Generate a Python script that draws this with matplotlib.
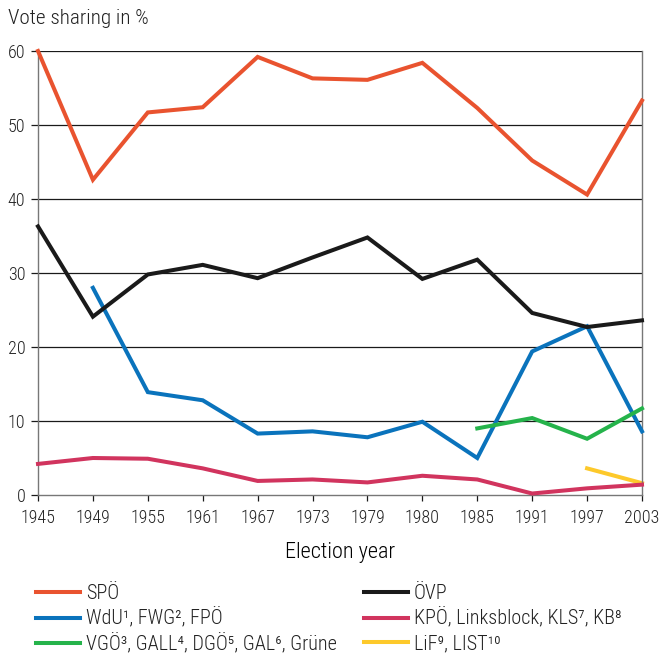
import matplotlib
matplotlib.use("Agg")
import matplotlib.pyplot as plt
import numpy as np

plt.rcParams['font.family'] = ['Roboto Condensed', 'DejaVu Sans']
plt.rcParams['font.stretch'] = 'condensed'
plt.rcParams['font.weight'] = 'light'
plt.rcParams['axes.labelweight'] = 'light'
plt.rcParams['text.color'] = '#222222'
plt.rcParams['xtick.labelcolor'] = '#222222'
plt.rcParams['ytick.labelcolor'] = '#222222'

years = ["1945", "1949", "1955", "1961", "1967", "1973", "1979", "1980", "1985", "1991", "1997", "2003"]
spo = [60.0, 42.6, 51.7, 52.4, 59.2, 56.3, 56.1, 58.4, 52.3, 45.2, 40.6, 53.3]
ovp = [36.3, 24.1, 29.8, 31.1, 29.3, 32.1, 34.8, 29.2, 31.8, 24.6, 22.7, 23.6]
fpo = [None, 28.0, 13.9, 12.8, 8.3, 8.6, 7.8, 9.9, 5.0, 19.4, 22.8, 8.6]
kpo = [4.2, 5.0, 4.9, 3.6, 1.9, 2.1, 1.7, 2.6, 2.1, 0.2, 0.9, 1.4]
gruene = [None, None, None, None, None, None, None, None, 9.0, 10.4, 7.6, 11.7]
lif = [None, None, None, None, None, None, None, None, None, None, 3.6, 1.6]
yticks = [0, 10, 20, 30, 40, 50, 60]

labels = ["SPÖ", "WdU¹, FWG², FPÖ", "VGÖ³, GALL⁴, DGÖ⁵, GAL⁶, Grüne",
          "ÖVP", "KPÖ, Linksblock, KLS⁷, KB⁸", "LiF⁹, LIST¹⁰"]

fig = plt.figure(figsize=(6.61, 6.54), dpi=100)
ax = fig.add_axes([38/661, 1 - 495/654, (642-38)/661, (495-51)/654])

x = np.arange(len(years))

def arr(v):
    return np.array([np.nan if a is None else a for a in v], dtype=float)

lw = 2.9
series = [
    (spo, "#E9532F", labels[0]),
    (fpo, "#0A73BC", labels[1]),
    (gruene, "#25B34B", labels[2]),
    (ovp, "#1A1A1A", labels[3]),
    (kpo, "#D1345E", labels[4]),
    (lif, "#FDC92B", labels[5]),
]
handles = []
zorders = {labels[0]: 5, labels[1]: 4, labels[2]: 4, labels[3]: 5, labels[4]: 3, labels[5]: 2}
for vals, c, lab in series:
    h, = ax.plot(x, arr(vals), color=c, lw=lw, label=lab, zorder=zorders[lab],
                 solid_joinstyle='miter', clip_on=False)
    handles.append(h)

ax.set_xlim(0, len(years) - 1)
ax.set_ylim(0, 60)
ax.set_xticks(x)
ax.set_xticklabels(years, fontsize=13, fontweight='light')
ax.set_yticks(yticks)
ax.set_yticklabels([str(t) for t in yticks], fontsize=13, fontweight='light')
for t in yticks[1:]:
    ax.axhline(t, color="#1a1a1a", lw=0.9, zorder=1)

for s in ["left", "right", "bottom"]:
    ax.spines[s].set_color("#777777")
    ax.spines[s].set_linewidth(1.0)
ax.spines["top"].set_visible(False)
ax.tick_params(axis="y", length=5, width=0.9, color="#1a1a1a", pad=4)
ax.tick_params(axis="x", length=4, width=0.9, color="#1a1a1a", pad=6)

ax.set_xlabel("Election year", fontsize=16, fontweight='light', labelpad=11)
fig.text(8/661, 1 - 18/654, "Vote sharing in %", fontsize=15.2, fontweight='light',
         va="center", ha="left")

leg_kw = dict(loc="upper left", frameon=False, borderpad=0, borderaxespad=0,
              handlelength=2.2, handletextpad=0.28, labelspacing=0.26,
              prop={'family': ['Roboto Condensed', 'DejaVu Sans'], 'size': 14.5, 'weight': 'light'})
leg1 = fig.legend(handles=handles[:3], labels=labels[:3],
                  bbox_to_anchor=(36/661, 1 - 584/654), **leg_kw)
leg2 = fig.legend(handles=handles[3:], labels=labels[3:],
                  bbox_to_anchor=(364/661, 1 - 584/654), **leg_kw)

fig.savefig("out.png", dpi=100)
